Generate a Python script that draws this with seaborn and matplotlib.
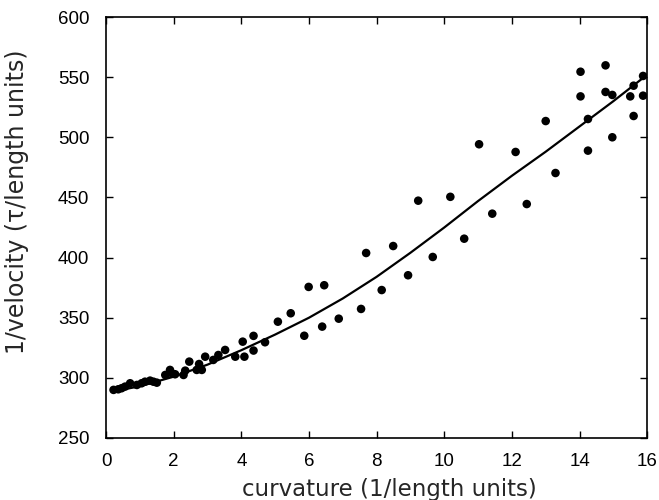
import numpy as np
import pandas as pd
import matplotlib
matplotlib.use('Agg')
import matplotlib.pyplot as plt
import seaborn as sns

# Dados (pontos)
curvatura = [0.22, 0.36, 0.46, 0.56, 0.71, 0.91, 1.05, 1.15, 1.30, 1.40, 1.50,
             1.75, 1.89, 1.94, 2.04, 2.29, 2.34, 2.46, 2.68, 2.75, 2.83, 2.93,
             3.17, 3.32, 3.52, 3.82, 4.04, 4.09, 4.36, 4.36, 4.70, 5.08, 5.46,
             5.86, 5.99, 6.39, 6.45, 6.88, 7.54, 7.69, 8.15, 8.49, 8.93, 9.23,
             9.66, 10.18, 10.59, 11.03, 11.42, 12.11, 12.44, 13.0, 13.29,
             14.03, 14.03, 14.25, 14.25, 14.77, 14.77, 14.97, 14.97, 15.5,
             15.6, 15.6, 15.88, 15.88]
inv_velocidade = [290, 290.5, 291.4, 292.7, 295.5, 294.1, 295.5, 296.8, 297.7,
                  296.8, 296, 302.4, 306.6, 303.8, 303, 302.4, 306, 313.5,
                  306.6, 311.5, 306.6, 317.6, 314.9, 319, 323.2, 317.6, 330.1,
                  317.6, 334.9, 322.7, 329.6, 346.7, 353.7, 335, 375.6, 342.6,
                  377, 349.2, 357.3, 403.8, 373, 409.6, 385.3, 447.3, 400.5,
                  450.5, 415.7, 494.2, 436.5, 487.8, 444.5, 513.5, 470.3, 554.5,
                  534, 515.2, 488.9, 559.8, 537.7, 535.2, 500, 534, 542.9,
                  517.7, 551, 534.6]

# Curva de ajuste
curva_x = [0.25, 1, 2, 3, 4, 5, 6, 7, 8, 9, 10, 11, 12, 13, 14, 15, 16]
curva_y = [289, 293, 301, 311, 323, 336, 350, 366, 384, 404, 425, 447, 468,
           488, 509, 530, 552]

x_ticks = [0, 2, 4, 6, 8, 10, 12, 14, 16]
y_ticks = [250, 300, 350, 400, 450, 500, 550, 600]

df = pd.DataFrame({'curvatura': curvatura, 'inv_vel': inv_velocidade})
df_curva = pd.DataFrame({'x': curva_x, 'y': curva_y})

sns.set_style('ticks')
plt.rcParams['font.family'] = ['Liberation Sans', 'DejaVu Sans']

fig = plt.figure(figsize=(6.59, 5.0), dpi=100)
ax = fig.add_axes([0.161, 0.124, 0.821, 0.842])

sns.lineplot(data=df_curva, x='x', y='y', color='black', linewidth=1.6, ax=ax)
sns.scatterplot(data=df, x='curvatura', y='inv_vel', s=38, color='black',
                edgecolor='none', ax=ax, zorder=3)

ax.set_xlim(0, 16)
ax.set_ylim(250, 600)
ax.set_xticks(x_ticks)
ax.set_yticks(y_ticks)
ax.tick_params(direction='in', top=True, right=True, length=5, width=1,
               labelsize=13.5, colors='black')
ax.tick_params(axis='x', pad=11)
ax.tick_params(axis='y', pad=12)
for s in ax.spines.values():
    s.set_linewidth(1.2)
    s.set_color('black')

ax.set_xlabel('curvature (1/length units)', fontsize=16.5, family='DejaVu Sans')
ax.set_ylabel('1/velocity (τ/length units)', fontsize=17, family='DejaVu Sans')
ax.xaxis.set_label_coords(0.523, -0.095)
ax.yaxis.set_label_coords(-0.142, 0.56)

fig.savefig('out.png', dpi=100)
